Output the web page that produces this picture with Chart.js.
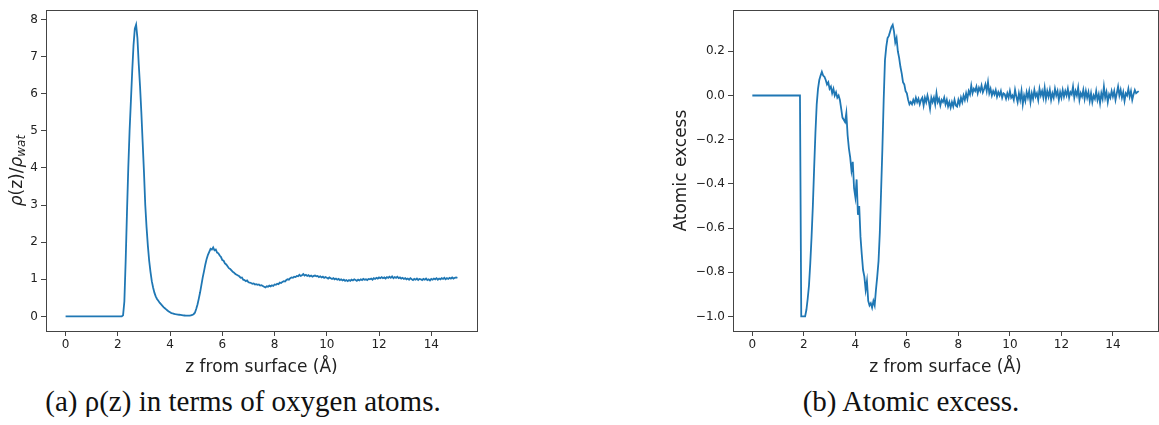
<!DOCTYPE html>
<html>
<head>
<meta charset="utf-8">
<script src="https://cdn.jsdelivr.net/npm/chart.js@4.4.0/dist/chart.umd.min.js"></script>
<style>
  body { margin: 0; background: #fff; width: 1159px; height: 425px; position: relative; overflow: hidden; }
  .box { position: absolute; top: 0; height: 380px; }
  .cap { position: absolute; top: 385px; font-family: "Liberation Serif", serif; font-size: 29px; color: #111;
         white-space: nowrap; transform: translateX(-50%); }
</style>
</head>
<body>
<div class="box" style="left:0;width:480px"><canvas id="rho" width="480" height="380"></canvas></div>
<div class="box" style="left:660px;width:499px"><canvas id="exc" width="499" height="380"></canvas></div>
<div class="cap" style="left:243px">(a) ρ(z) in terms of oxygen atoms.</div>
<div class="cap" style="left:911px">(b) Atomic excess.</div>

<script>
// sampling step of the z grid (Å), one row below = 1 Å
const zStep = 0.05;

// rho(z)/rho_wat, z = 0 .. 15
const rhoVals = [
  0,0,0,0,0,0,0,0,0,0,0,0,0,0,0,0,0,0,0,0,
  0,0,0,0,0,0,0,0,0,0,0,0,0,0,0,0,0,0,0,0,
  0,0,0,0,0.03,0.4,1.5,2.8,4.0,5.0,5.8,6.6,7.3,7.75,7.86,7.5,6.8,6.2,5.5,4.7,
  3.9,3.0,2.4,1.9,1.5,1.2,0.95,0.78,0.64,0.54,0.47,0.42,0.37,0.33,0.29,0.25,0.22,0.19,0.16,0.13,
  0.11,0.09,0.08,0.07,0.06,0.055,0.05,0.045,0.04,0.035,0.03,0.025,0.02,0.02,0.02,0.02,0.03,0.04,0.06,0.10,
  0.20,0.32,0.48,0.65,0.85,1.05,1.22,1.40,1.55,1.66,1.74,1.82,1.80,1.86,1.78,1.80,1.72,1.70,1.64,1.60,
  1.52,1.50,1.43,1.40,1.35,1.30,1.28,1.24,1.20,1.18,1.14,1.12,1.10,1.08,1.04,1.05,0.99,0.98,0.95,0.97,
  0.92,0.91,0.90,0.88,0.89,0.86,0.87,0.85,0.86,0.83,0.84,0.82,0.80,0.78,0.81,0.80,0.83,0.81,0.84,0.82,
  0.86,0.85,0.88,0.87,0.91,0.90,0.93,0.95,0.94,0.98,1.00,0.99,1.03,1.05,1.04,1.07,1.06,1.09,1.08,1.12,
  1.09,1.11,1.14,1.10,1.12,1.09,1.11,1.08,1.10,1.07,1.09,1.10,1.08,1.09,1.06,1.08,1.05,1.07,1.04,1.06,
  1.04,1.02,1.05,1.03,1.01,1.03,1.00,1.02,0.99,1.01,0.98,1.00,0.97,0.99,0.96,0.98,0.95,0.98,0.96,0.99,
  0.97,1.00,0.98,0.96,0.99,0.97,1.00,0.98,1.01,0.99,1.00,0.98,1.01,1.00,1.02,0.99,1.03,1.01,1.04,1.02,
  1.05,1.03,1.06,1.03,1.05,1.02,1.06,1.04,1.07,1.04,1.08,1.03,1.06,1.04,1.07,1.03,1.05,1.02,1.04,1.01,
  1.03,1.00,1.02,0.99,1.03,1.00,0.98,1.01,0.99,1.02,0.98,1.01,1.00,0.98,1.01,0.99,1.02,0.98,1.00,0.97,
  1.01,0.99,1.02,1.00,1.03,0.99,1.02,1.00,1.03,1.01,1.04,1.00,1.03,1.01,1.04,1.02,1.05,1.02,1.04,1.05,
  1.04
];

// atomic excess, z = 0 .. 15
const excessVals = [
  0,0,0,0,0,0,0,0,0,0,0,0,0,0,0,0,0,0,0,0,
  0,0,0,0,0,0,0,0,0,0,0,0,0,0,0,0,0,0,-1.0,-1.0,
  -1.0,-1.0,-0.97,-0.92,-0.86,-0.76,-0.64,-0.50,-0.33,-0.17,-0.04,0.03,0.07,0.09,0.107,0.09,0.085,0.07,0.05,0.06,
  0.03,0.04,0.01,0.03,0.0,0.015,-0.01,0.0,-0.02,-0.06,-0.10,-0.11,-0.12,-0.08,-0.18,-0.24,-0.28,-0.34,-0.30,-0.42,
  -0.46,-0.38,-0.54,-0.50,-0.64,-0.72,-0.79,-0.82,-0.88,-0.84,-0.93,-0.95,-0.94,-0.96,-0.93,-0.95,-0.88,-0.82,-0.75,-0.62,
  -0.43,-0.24,-0.02,0.16,0.22,0.26,0.27,0.29,0.31,0.32,0.29,0.24,0.26,0.20,0.17,0.13,0.10,0.06,0.05,0.02,
  0.01,-0.02,-0.04,-0.03,-0.04,-0.02,-0.035,-0.01,-0.03,-0.015,-0.04,-0.02,-0.01,-0.045,-0.01,-0.03,0.0,-0.025,-0.06,-0.01,
  -0.03,-0.01,-0.04,0.01,-0.03,-0.015,-0.045,-0.02,-0.03,-0.01,-0.04,-0.02,-0.05,-0.03,-0.055,-0.03,-0.05,-0.02,-0.045,-0.05,
  -0.02,-0.04,-0.01,-0.03,0.0,-0.02,0.01,-0.015,0.02,0.005,0.045,0.01,0.03,0.02,0.04,0.01,0.035,0.02,0.045,0.015,
  0.03,0.05,0.02,0.06,0.01,0.03,0.0,0.02,0.005,0.025,-0.005,0.015,0.0,0.02,-0.01,0.01,0.005,-0.015,0.01,-0.01,
  0.02,-0.01,0.0,-0.02,0.025,-0.005,-0.03,0.01,-0.02,0.02,-0.04,0.0,-0.025,0.015,-0.01,0.02,-0.03,0.01,-0.015,0.025,
  -0.005,0.01,-0.02,0.03,0.0,0.02,-0.01,0.035,-0.015,0.02,-0.005,0.025,-0.02,0.01,-0.01,0.03,0.0,0.02,-0.02,0.015,
  -0.01,0.025,-0.005,0.02,0.0,0.03,-0.01,0.015,0.005,0.04,-0.01,0.02,0.0,0.035,-0.02,0.01,-0.005,0.025,-0.015,0.02,
  -0.01,0.015,-0.025,0.01,-0.03,0.0,-0.015,0.02,-0.02,0.005,-0.035,0.01,-0.015,0.04,-0.01,0.015,-0.03,0.005,-0.01,0.02,
  -0.005,0.02,-0.02,0.01,0.04,0.0,0.025,-0.01,0.015,-0.025,0.01,0.0,0.03,-0.005,0.02,-0.02,0.005,0.025,0.01,0.015,
  0.02
];

const xTicks = [0, 2, 4, 6, 8, 10, 12, 14];
const rhoTicks = [0, 1, 2, 3, 4, 5, 6, 7, 8];
const excessTicks = [-1.0, -0.8, -0.6, -0.4, -0.2, 0.0, 0.2];

const zVals = rhoVals.map((_, i) => +(i * zStep).toFixed(2));

Chart.defaults.font.family = '"DejaVu Sans", sans-serif';
Chart.defaults.color = '#222';
Chart.defaults.animation = false;

// matplotlib-style box round the axes
const frame = {
  id: 'frame',
  afterDatasetsDraw(chart) {
    const { ctx, chartArea: a } = chart;
    ctx.save();
    ctx.strokeStyle = '#444';
    ctx.lineWidth = 1;
    ctx.strokeRect(Math.round(a.left) + 0.5, Math.round(a.top) + 0.5,
      Math.round(a.right - a.left), Math.round(a.bottom - a.top));
    ctx.restore();
  }
};

// y title with italic rho and subscript "wat"
const rhoTitle = {
  id: 'rhoTitle',
  afterDraw(chart) {
    const { ctx, chartArea: a } = chart;
    const parts = [
      ['italic 17px "DejaVu Sans"', 'ρ', 0],
      ['17px "DejaVu Sans"', '(z)/', 0],
      ['italic 17px "DejaVu Sans"', 'ρ', 0],
      ['italic 12px "DejaVu Sans"', 'wat', 4]
    ];
    ctx.save();
    ctx.translate(18, (a.top + a.bottom) / 2);
    ctx.rotate(-Math.PI / 2);
    ctx.fillStyle = '#222';
    ctx.textBaseline = 'middle';
    let w = 0;
    parts.forEach(p => { ctx.font = p[0]; w += ctx.measureText(p[1]).width; });
    let x = -w / 2;
    parts.forEach(p => {
      ctx.font = p[0];
      ctx.fillText(p[1], x, p[2]);
      x += ctx.measureText(p[1]).width;
    });
    ctx.restore();
  }
};

function tickGrid() {
  return { display: true, drawOnChartArea: false, drawTicks: true, tickLength: 5, color: '#444' };
}

function makeChart(id, vals, yMin, yMax, yTicks, yFmt, yWidth, padRight, yTitle, plugins) {
  return new Chart(document.getElementById(id), {
    type: 'line',
    data: {
      datasets: [{
        data: zVals.map((z, i) => ({ x: z, y: vals[i] })),
        borderColor: '#1f77b4',
        borderWidth: 1.8,
        pointRadius: 0,
        tension: 0,
        fill: false
      }]
    },
    options: {
      responsive: false,
      layout: { padding: { left: 0, top: 10, right: padRight, bottom: 0 } },
      plugins: { legend: { display: false }, tooltip: { enabled: false } },
      scales: {
        x: {
          type: 'linear',
          min: -0.75,
          max: 15.75,
          grid: tickGrid(),
          border: { display: false },
          afterBuildTicks: s => { s.ticks = xTicks.map(v => ({ value: v })); },
          afterFit: s => { s.height = 49; },
          ticks: { font: { size: 12 }, padding: 2, maxRotation: 0, callback: v => String(v) },
          title: { display: true, text: 'z from surface (Å)', font: { size: 17 }, padding: { top: 0, bottom: 2 } }
        },
        y: {
          min: yMin,
          max: yMax,
          grid: tickGrid(),
          border: { display: false },
          afterBuildTicks: s => { s.ticks = yTicks.map(v => ({ value: v })); },
          afterFit: s => { s.width = yWidth; },
          ticks: { font: { size: 12 }, padding: 3, callback: yFmt },
          title: yTitle
        }
      }
    },
    plugins: plugins
  });
}

makeChart('rho', rhoVals, -0.393, 8.25, rhoTicks, v => String(v), 46, 3,
  { display: false }, [frame, rhoTitle]);

makeChart('exc', excessVals, -1.066, 0.386, excessTicks, v => v.toFixed(1).replace('-', '−'), 73, 1,
  { display: true, text: 'Atomic excess', font: { size: 17 }, padding: { top: 11, bottom: 0 } }, [frame]);
</script>
</body>
</html>
